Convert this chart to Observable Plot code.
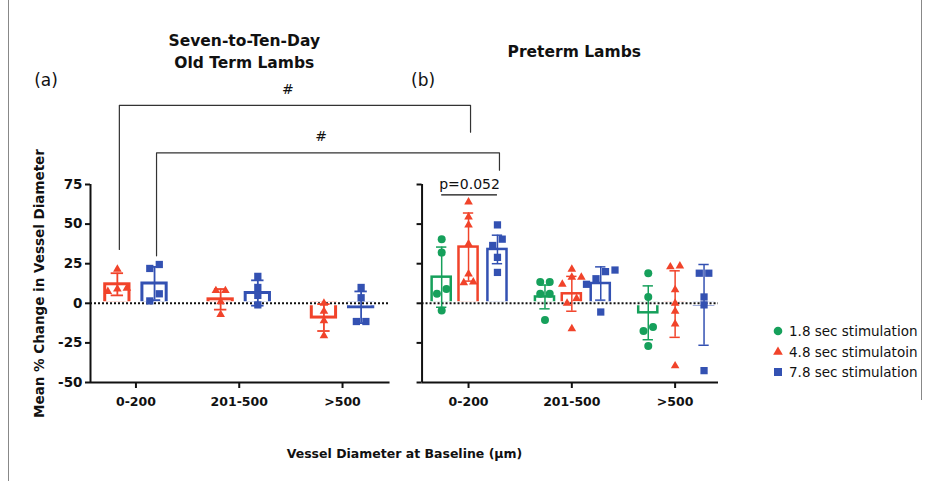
<!DOCTYPE html>
<html><head><meta charset="utf-8">
<script src="https://cdn.jsdelivr.net/npm/d3@7"></script>
<script src="https://cdn.jsdelivr.net/npm/@observablehq/plot@0.6"></script>
<style>
body{margin:0;background:#fff;}
#wrap{position:relative;width:931px;height:481px;font-family:"DejaVu Sans",sans-serif;overflow:hidden;}
#legend{position:absolute;left:771px;top:321px;font-size:13.5px;color:#111;}
.row{display:flex;align-items:center;height:20.5px;white-space:nowrap;}
.row svg{margin-right:4px}
.bl{position:absolute;background:#888;width:1px}
</style></head><body>
<div id="wrap"><div id="chart"></div><div id="legend"></div>
<div class="bl" style="left:8px;top:0;height:481px"></div>
<div class="bl" style="left:921px;top:0;height:400px"></div>
</div>
<script>
// ---------- data ----------
const groups = ["0-200", "201-500", ">500"];
const seriesNames = ["1.8 sec stimulation", "4.8 sec stimulatoin", "7.8 sec stimulation"];
const panelTitles = ["Seven-to-Ten-Day\nOld Term Lambs", "Preterm Lambs"];
const panelLetters = ["(a)", "(b)"];
const yTicks = [-50, -25, 0, 25, 50, 75];

// (a) seven-to-ten-day old term lambs (4.8 s and 7.8 s only)
const termMean48 = [12, 2.5, -9];
const termSd48 = [7, 6.5, 8.5];
const termPts48 = [[21.5, 9.5, 9, 7.5], [8, 8, 1, -7], [0, -5, -11, -20.5]];
const termMean78 = [12.5, 6.5, -2.5];
const termSd78 = [10.5, 8, 10];
const termPts78 = [[24.5, 22, 6, 1.5], [17, 10, 5, -1], [10, 3.5, -11.5, -11.5]];

// (b) preterm lambs
const preMean18 = [16.5, 4, -6];
const preSd18 = [19, 7.5, 17];
const prePts18 = [[40.5, 32, 9, 6, -4.5], [13.5, 13.5, 6, 6, -10.5], [19, 4, -15, -17.5, -27]];
const preMean48 = [35.5, 6, -0.5];
const preSd48 = [21.5, 11, 21];
const prePts48 = [[64, 54.5, 49.5, 37.5, 18.5, 13.5, 13], [21.5, 16.5, 16.5, 12, 3, 0, -16], [23.5, 23, 8.5, 0, -5, -13, -39.5]];
const preMean78 = [34, 12.5, -1];
const preSd78 = [9, 10.5, 25.5];
const prePts78 = [[49.5, 40.5, 36.5, 29, 19.5], [21, 20, 15.5, 12, -5.5], [19, 19, 4, -1, -42.5]];

// significance annotations (values in % units)
const bracketLabels = ["#", "#"];
const bracketTop = [125, 95];
const bracketLeftEnd = [34, 30];
const bracketRightEnd = [108, 84];
const pText = "p=0.052";
const pLevel = 68.5;

// ---------- styling / layout ----------
const colors = ["#16a05b", "#f1432a", "#3351b2"];
const symbols = ["circle", "triangle", "square"];
const dotR = [4, 3.2, 4.1];
const W = 931, H = 481, mL = 90, mR = 213, mT = 184, mB = 99;
const xDomain = [-0.44, 5.64];
const pxPerUnit = (W - mL - mR) / (xDomain[1] - xDomain[0]);
const panels = [
  {start: -0.44, end: 2.46, base: 0, barW: 0.235, cap: 0.06, bs: 3, es: 1.8, offsets: [null, -0.18, 0.18],
   data: [null, {mean: termMean48, sd: termSd48, pts: termPts48}, {mean: termMean78, sd: termSd78, pts: termPts78}]},
  {start: 2.77, end: 5.64, base: 3.22, barW: 0.185, cap: 0.05, bs: 2.5, es: 1.5, offsets: [-0.26, 0, 0.28],
   data: [{mean: preMean18, sd: preSd18, pts: prePts18}, {mean: preMean48, sd: preSd48, pts: prePts48}, {mean: preMean78, sd: preSd78, pts: prePts78}]}
];
panels.forEach((p, i) => { p.title = panelTitles[i]; p.letter = panelLetters[i]; });

function dodge(values, step, thresh) {
  const idx = values.map((v, i) => i).sort((a, b) => values[a] - values[b]);
  const off = new Array(values.length).fill(0);
  let cluster = [idx[0]];
  const flush = () => cluster.forEach((k, j) => off[k] = (j - (cluster.length - 1) / 2) * step);
  for (let j = 1; j < idx.length; j++) {
    if (values[idx[j]] - values[idx[j - 1]] < thresh) cluster.push(idx[j]);
    else { flush(); cluster = [idx[j]]; }
  }
  flush();
  return off;
}

const bars = [], pts = [];
const centerOf = {};
panels.forEach((p, pi) => {
  p.data.forEach((d, s) => {
    if (!d) return;
    groups.forEach((g, gi) => {
      const cx = p.base + gi + p.offsets[s];
      centerOf[`${pi}-${s}-${gi}`] = cx;
      const m = d.mean[gi], sd = d.sd[gi];
      bars.push({cx, mean: m, x1: cx - p.barW / 2, x2: cx + p.barW / 2, lo: m - sd, hi: m + sd,
        c1: cx - p.cap, c2: cx + p.cap, color: colors[s], bs: p.bs, es: p.es});
      const vals = d.pts[gi];
      const off = dodge(vals, 9.5 / pxPerUnit, 5);
      vals.forEach((v, k) => pts.push({x: cx + off[k], v, s, color: colors[s]}));
    });
  });
});

const xTickPos = panels.flatMap(p => groups.map((g, i) => p.base + i));
const labelAt = new Map(xTickPos.map((x, i) => [x, groups[i % groups.length]]));

// brackets: (a) 4.8s vs (b) 4.8s, (a) 7.8s vs (b) 7.8s
const bracketSeries = [1, 2];
const bracketPts = [], bracketText = [];
bracketSeries.forEach((s, i) => {
  const xa = centerOf[`0-${s}-0`], xb = centerOf[`1-${s}-0`];
  bracketPts.push({b: i, x: xa, y: bracketLeftEnd[i]}, {b: i, x: xa, y: bracketTop[i]},
                  {b: i, x: xb, y: bracketTop[i]}, {b: i, x: xb, y: bracketRightEnd[i]});
  bracketText.push({x: (xa + xb) / 2, y: bracketTop[i], t: bracketLabels[i]});
});
const pRow = [{x1: centerOf["1-0-0"], x2: centerOf["1-2-0"], y: pLevel, t: pText}];

const rightTicks = yTicks.map(v => ({v, x1: panels[1].start - 5 / pxPerUnit, x2: panels[1].start}));

const chart = Plot.plot({
  width: W, height: H, marginLeft: mL, marginRight: mR, marginTop: mT, marginBottom: mB,
  x: {type: "linear", domain: xDomain},
  y: {domain: [-50, 75]},
  color: {type: "identity"},
  style: {fontFamily: "DejaVu Sans, sans-serif", fontSize: "13px", color: "#111", background: "white"},
  marks: [
    Plot.rect(bars, {x1: "x1", x2: "x2", y1: 0, y2: "mean", stroke: "color", strokeWidth: "bs", fill: "none"}),
    Plot.ruleY(panels, {y: 0, x1: "start", x2: "end", stroke: "white", strokeWidth: 4}),
    Plot.ruleY(panels, {y: 0, x1: "start", x2: "end", stroke: "#111", strokeWidth: 2, strokeDasharray: "2,2"}),
    Plot.ruleX(bars, {x: "cx", y1: "lo", y2: "hi", stroke: "color", strokeWidth: "es"}),
    Plot.ruleY(bars, {y: "hi", x1: "c1", x2: "c2", stroke: "color", strokeWidth: "es"}),
    Plot.ruleY(bars, {y: "lo", x1: "c1", x2: "c2", stroke: "color", strokeWidth: "es"}),
    ...[0, 1, 2].map(s => Plot.dot(pts.filter(d => d.s === s), {x: "x", y: "v", symbol: symbols[s], r: dotR[s], fill: "color", stroke: "none"})),
    // axes
    Plot.ruleY(panels, {y: -50, x1: "start", x2: "end", stroke: "#111", strokeWidth: 2}),
    Plot.ruleX(panels, {x: "start", y1: -50, y2: 75, stroke: "#111", strokeWidth: 2}),
    Plot.ruleY(rightTicks, {y: "v", x1: "x1", x2: "x2", stroke: "#111", strokeWidth: 2}),
    Plot.axisY({ticks: yTicks, tickFormat: d => String(d), tickSize: 5, tickPadding: 3, strokeWidth: 2,
      fontSize: 13.5, fontWeight: "bold", label: "Mean % Change in Vessel Diameter", labelAnchor: "center",
      labelOffset: 56, labelArrow: "none"}),
    Plot.axisX({ticks: xTickPos, tickFormat: d => labelAt.get(d), tickSize: 6, tickPadding: 9, strokeWidth: 2,
      fontSize: 12.5, fontWeight: "bold", label: "Vessel Diameter at Baseline (μm)", labelAnchor: "center",
      labelOffset: 75, labelArrow: "none"}),
    // brackets
    Plot.line(bracketPts, {x: "x", y: "y", z: "b", stroke: "#333", strokeWidth: 1.2, dx: 2}),
    Plot.text(bracketText, {x: "x", y: "y", text: "t", dy: -16, dx: -5, fontSize: 14, fill: "#111"}),
    Plot.ruleY(pRow, {y: "y", x1: "x1", x2: "x2", stroke: "#111", strokeWidth: 1.2}),
    Plot.text(pRow, {x: d => (d.x1 + d.x2) / 2, y: "y", text: "t", dy: -10, fontSize: 14, fill: "#111"}),
    // titles
    Plot.text(panels, {x: d => (d.start + d.end) / 2, frameAnchor: "top", dy: -135, dx: 4, text: "title",
      lineAnchor: "middle", fontSize: 15.5, fontWeight: "bold", lineHeight: 1.42, fill: "#111"}),
    Plot.text([panels[0]], {x: "start", frameAnchor: "top", dy: -104, dx: -44.5, text: "letter",
      lineAnchor: "middle", fontSize: 17, fill: "#111"}),
    Plot.text([panels[1]], {x: "start", frameAnchor: "top", dy: -104, dx: 1, text: "letter",
      lineAnchor: "middle", fontSize: 17, fill: "#111"})
  ]
});
document.getElementById("chart").appendChild(chart);

// legend
const legend = document.getElementById("legend");
const symFns = [d3.symbolCircle, d3.symbolTriangle, d3.symbolSquare];
const legR = [4.3, 3.6, 4.5];
seriesNames.forEach((name, i) => {
  const row = document.createElement("div");
  row.className = "row";
  const path = d3.symbol(symFns[i], Math.PI * legR[i] * legR[i])();
  row.innerHTML = `<svg width="14" height="14" viewBox="-7 -7 14 14"><path d="${path}" fill="${colors[i]}"/></svg><span>${name}</span>`;
  legend.appendChild(row);
});
</script></body></html>
